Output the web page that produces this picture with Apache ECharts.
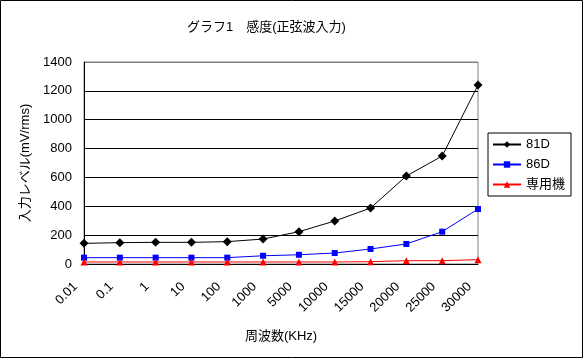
<!DOCTYPE html>
<html><head><meta charset="utf-8">
<script src="https://cdn.jsdelivr.net/npm/echarts@6/dist/echarts.min.js"></script>
<style>html,body{margin:0;padding:0;background:#fff}#c{width:583px;height:358px}</style>
</head><body><div id="c"></div>
<script>
const categories = ['0.01','0.1','1','10','100','1000','5000','10000','15000','20000','25000','30000'];
const s81D = [143,148,150,150,155,173,224,298,388,610,748,1240];
const s86D = [44,44,44,44,44,57,64,76,104,139,224,381];
const sSen = [14,14,14,14,14,14,14,14,16,23,23,30];
const yTicks = {min:0, max:1400, interval:200};
const FONT = 'Liberation Sans, Noto Sans CJK JP, sans-serif';
const chart = echarts.init(document.getElementById('c'));
chart.setOption({
  animation:false,
  backgroundColor:'#fff',
  textStyle:{fontFamily:FONT, color:'#000'},
  graphic:[{type:'rect', shape:{x:0.5,y:0.5,width:582,height:357}, style:{fill:'none',stroke:'#000',lineWidth:1}, silent:true}],
  title:{text:'グラフ1\u3000感度(正弦波入力)', left:182, top:16, textStyle:{fontSize:13,fontWeight:'normal',color:'#000',fontFamily:FONT}},
  grid:{left:84, right:105, top:62, bottom:94, show:true, borderColor:'#808080', borderWidth:1, backgroundColor:'transparent'},
  legend:{orient:'vertical', left:488, top:133, padding:[5,6,5,4], itemGap:7, itemWidth:28, itemHeight:8,
    borderColor:'#000', borderWidth:1, textStyle:{fontSize:13, color:'#000', fontFamily:FONT},
    data:['81D','86D','専用機']},
  xAxis:{type:'category', data:categories, boundaryGap:false,
    name:'周波数(KHz)', nameLocation:'middle', nameGap:66, nameTextStyle:{fontSize:13,color:'#000'},
    axisLine:{lineStyle:{color:'#000'}}, axisTick:{show:false},
    axisLabel:{rotate:45, fontSize:13, color:'#000', margin:12, interval:0, padding:[0,12,0,0]}},
  yAxis:{type:'value', min:yTicks.min, max:yTicks.max, interval:yTicks.interval,
    name:'入力レベル(mV/rms)', nameLocation:'middle', nameGap:40, nameTextStyle:{fontSize:13,color:'#000'},
    axisLine:{show:true, lineStyle:{color:'#000'}}, axisTick:{show:false},
    axisLabel:{fontSize:13, color:'#000', margin:12, formatter:function(v){return String(v);}},
    splitLine:{lineStyle:{color:['#000','#000','#000','#000','#000','#000','#000','#808080'], width:1}}},
  series:[
    {name:'81D', type:'line', data:s81D, symbol:'diamond', symbolSize:9, lineStyle:{color:'#000',width:1}, itemStyle:{color:'#000'}},
    {name:'86D', type:'line', data:s86D, symbol:'rect', symbolSize:6, lineStyle:{color:'#0000ff',width:1}, itemStyle:{color:'#0000ff'}},
    {name:'専用機', type:'line', data:sSen, symbol:'triangle', symbolSize:7, lineStyle:{color:'#ff0000',width:1}, itemStyle:{color:'#ff0000'}}
  ]
});
</script></body></html>
